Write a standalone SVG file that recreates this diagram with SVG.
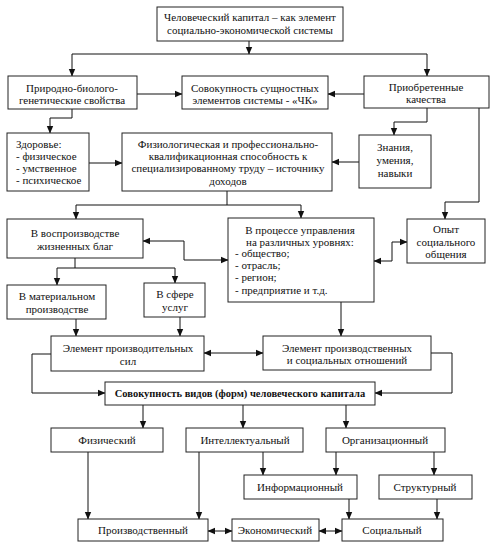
<svg xmlns="http://www.w3.org/2000/svg" width="497" height="549" viewBox="0 0 497 549">
<style>
.b{fill:#fff;stroke:#222;stroke-width:1}
.t{font-size:11px;fill:#111}
.c{text-anchor:middle}
.bold{font-weight:bold;font-size:10.5px}
.l{fill:none;stroke:#111;stroke-width:1}
</style>
<defs>
<marker id="a" markerUnits="userSpaceOnUse" markerWidth="8" markerHeight="8" refX="7" refY="4" orient="auto-start-reverse" viewBox="0 0 8 8">
<path d="M0,0.8 L7.5,4 L0,7.2 Z" fill="#111"/>
</marker>
</defs>
<rect width="497" height="549" fill="#fff"/>
<g id="connectors">
<path class="l" d="M249,41 V54" marker-end="url(#a)"/>
<path class="l" d="M249,54 H72 V76" marker-end="url(#a)"/>
<path class="l" d="M249,54 H427 V76" marker-end="url(#a)"/>
<path class="l" d="M137,94 H182" marker-end="url(#a)"/>
<path class="l" d="M364,94 H328" marker-end="url(#a)"/>
<path class="l" d="M72,109 V118 H50 V133" marker-end="url(#a)"/>
<path class="l" d="M89,163 H122" marker-end="url(#a)"/>
<path class="l" d="M359,162 H332" marker-end="url(#a)"/>
<path class="l" d="M427,108 V122 H394 V135" marker-end="url(#a)"/>
<path class="l" d="M479,108 V202 H445 V219" marker-end="url(#a)"/>
<path class="l" d="M227,191 V205 H76 V219" marker-end="url(#a)"/>
<path class="l" d="M227,205 H301 V218" marker-end="url(#a)"/>
<path class="l" d="M143,241 H184 V260 H228" marker-start="url(#a)" marker-end="url(#a)"/>
<path class="l" d="M374,261 H392 V242 H407" marker-start="url(#a)" marker-end="url(#a)"/>
<path class="l" d="M75,258 V268 H57 V285" marker-end="url(#a)"/>
<path class="l" d="M75,268 H175 V283" marker-end="url(#a)"/>
<path class="l" d="M76,319 V336" marker-end="url(#a)"/>
<path class="l" d="M180,317 V336" marker-end="url(#a)"/>
<path class="l" d="M341,302 V336" marker-end="url(#a)"/>
<path class="l" d="M204,353 H263" marker-start="url(#a)" marker-end="url(#a)"/>
<path class="l" d="M51,354 H32 V393 H105" marker-end="url(#a)"/>
<path class="l" d="M431,353 H452 V393 H375" marker-end="url(#a)"/>
<path class="l" d="M143,405 V428" marker-end="url(#a)"/>
<path class="l" d="M243,405 V428" marker-end="url(#a)"/>
<path class="l" d="M346,405 V428" marker-end="url(#a)"/>
<path class="l" d="M263,452 V475" marker-end="url(#a)"/>
<path class="l" d="M336,452 V475" marker-end="url(#a)"/>
<path class="l" d="M434,452 V475" marker-end="url(#a)"/>
<path class="l" d="M88,452 V519" marker-end="url(#a)"/>
<path class="l" d="M199,452 V519" marker-end="url(#a)"/>
<path class="l" d="M349,499 V519" marker-end="url(#a)"/>
<path class="l" d="M437,499 V519" marker-end="url(#a)"/>
<path class="l" d="M208,531 H232" marker-start="url(#a)" marker-end="url(#a)"/>
<path class="l" d="M319,531 H342" marker-start="url(#a)" marker-end="url(#a)"/>
</g>
<g id="nodes" font-family="'Liberation Serif', 'Times New Roman', serif">
<g id="n1"><rect class="b" x="157" y="7" width="186" height="34"/>
<text class="t c" x="250" y="21">Человеческий капитал – как элемент</text>
<text class="t c" x="250" y="34">социально-экономической системы</text></g>
<g id="n2"><rect class="b" x="8" y="76" width="129" height="33"/>
<text class="t c" x="72" y="92">Природно-биолого-</text>
<text class="t c" x="72" y="104">генетические  свойства</text></g>
<g id="n3"><rect class="b" x="182" y="76" width="146" height="33"/>
<text class="t c" x="255" y="92">Совокупность сущностных</text>
<text class="t c" x="255" y="104">элементов системы - «ЧК»</text></g>
<g id="n4"><rect class="b" x="364" y="76" width="125" height="32"/>
<text class="t c" x="426" y="91">Приобретенные</text>
<text class="t c" x="426" y="103">качества</text></g>
<g id="n5"><rect class="b" x="7" y="133" width="82" height="58"/>
<text class="t" x="16" y="148">Здоровье:</text>
<text class="t" x="16" y="160">- физическое</text>
<text class="t" x="16" y="172">- умственное</text>
<text class="t" x="16" y="184">- психическое</text></g>
<g id="n6"><rect class="b" x="122" y="133" width="210" height="58"/>
<text class="t c" x="228" y="148">Физиологическая  и профессионально-</text>
<text class="t c" x="228" y="160">квалификационная способность к</text>
<text class="t c" x="228" y="172">специализированному труду – источнику</text>
<text class="t c" x="228" y="185">доходов</text></g>
<g id="n7"><rect class="b" x="359" y="135" width="72" height="53"/>
<text class="t c" x="395" y="151">Знания,</text>
<text class="t c" x="395" y="164">умения,</text>
<text class="t c" x="395" y="177">навыки</text></g>
<g id="n8"><rect class="b" x="407" y="219" width="78" height="44"/>
<text class="t c" x="446" y="233">Опыт</text>
<text class="t c" x="446" y="246">социального</text>
<text class="t c" x="446" y="258">общения</text></g>
<g id="n9"><rect class="b" x="7" y="219" width="136" height="39"/>
<text class="t c" x="75" y="237">В воспроизводстве</text>
<text class="t c" x="75" y="250">жизненных благ</text></g>
<g id="n10"><rect class="b" x="228" y="218" width="146" height="84"/>
<text class="t c" x="300" y="234">В процессе управления</text>
<text class="t c" x="300" y="246">на различных уровнях:</text>
<text class="t" x="235" y="257">- общество;</text>
<text class="t" x="235" y="269">- отрасль;</text>
<text class="t" x="235" y="281">- регион;</text>
<text class="t" x="235" y="294">- предприятие  и т.д.</text></g>
<g id="n11"><rect class="b" x="7" y="285" width="99" height="34"/>
<text class="t c" x="57" y="300">В материальном</text>
<text class="t c" x="57" y="313">производстве</text></g>
<g id="n12"><rect class="b" x="144" y="283" width="61" height="34"/>
<text class="t c" x="175" y="298">В сфере</text>
<text class="t c" x="175" y="311">услуг</text></g>
<g id="n13"><rect class="b" x="51" y="336" width="153" height="35"/>
<text class="t c" x="128" y="352">Элемент производительных</text>
<text class="t c" x="128" y="365">сил</text></g>
<g id="n14"><rect class="b" x="263" y="336" width="168" height="34"/>
<text class="t c" x="347" y="352">Элемент производственных</text>
<text class="t c" x="347" y="364">и социальных отношений</text></g>
<g id="n15"><rect class="b" x="105" y="382" width="270" height="23"/>
<text class="t c bold" x="240" y="397">Совокупность  видов  (форм)  человеческого  капитала</text></g>
<g id="n16"><rect class="b" x="51" y="428" width="112" height="24"/>
<text class="t c" x="107" y="444">Физический</text></g>
<g id="n17"><rect class="b" x="186" y="428" width="117" height="24"/>
<text class="t c" x="245" y="444">Интеллектуальный</text></g>
<g id="n18"><rect class="b" x="326" y="428" width="119" height="24"/>
<text class="t c" x="385" y="444">Организационный</text></g>
<g id="n19"><rect class="b" x="244" y="475" width="113" height="24"/>
<text class="t c" x="300" y="491">Информационный</text></g>
<g id="n20"><rect class="b" x="379" y="475" width="93" height="24"/>
<text class="t c" x="425" y="491">Структурный</text></g>
<g id="n21"><rect class="b" x="78" y="519" width="130" height="22"/>
<text class="t c" x="143" y="534">Производственный</text></g>
<g id="n22"><rect class="b" x="232" y="519" width="87" height="22"/>
<text class="t c" x="275" y="534">Экономический</text></g>
<g id="n23"><rect class="b" x="342" y="519" width="101" height="22"/>
<text class="t c" x="392" y="534">Социальный</text></g>
</g>
</svg>
